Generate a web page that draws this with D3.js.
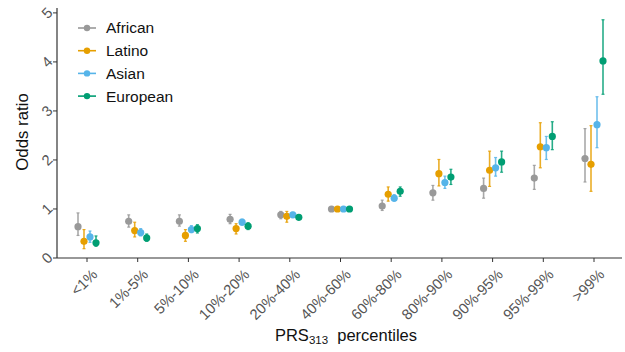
<!DOCTYPE html>
<html>
<head>
<meta charset="utf-8">
<script src="https://d3js.org/d3.v7.min.js"></script>
<style>
  body { margin: 0; background: #fff; }
  text { font-family: "Liberation Sans", Arial, sans-serif; }
</style>
</head>
<body>
<svg width="625" height="352"></svg>
<script>
const categories = ["<1%", "1%-5%", "5%-10%", "10%-20%", "20%-40%", "40%-60%", "60%-80%", "80%-90%", "90%-95%", "95%-99%", ">99%"];
const groups = ["African", "Latino", "Asian", "European"];
const colors = ["#999999", "#E69F00", "#56B4E9", "#009E73"];

// odds ratio, lower and upper CI per group, in category order
const orAfrican  = [0.64, 0.75, 0.75, 0.79, 0.88, 1, 1.06, 1.33, 1.42, 1.63, 2.03];
const loAfrican  = [0.46, 0.63, 0.65, 0.70, 0.80, 1, 0.97, 1.18, 1.22, 1.40, 1.55];
const hiAfrican  = [0.92, 0.88, 0.88, 0.89, 0.95, 1, 1.18, 1.48, 1.63, 1.89, 2.64];

const orLatino   = [0.34, 0.56, 0.46, 0.60, 0.85, 1, 1.30, 1.72, 1.79, 2.27, 1.91];
const loLatino   = [0.19, 0.43, 0.34, 0.49, 0.73, 1, 1.16, 1.47, 1.46, 1.84, 1.36];
const hiLatino   = [0.58, 0.73, 0.58, 0.70, 0.95, 1, 1.45, 2.01, 2.18, 2.76, 2.70];

const orAsian    = [0.43, 0.52, 0.58, 0.73, 0.88, 1, 1.22, 1.54, 1.84, 2.25, 2.72];
const loAsian    = [0.32, 0.45, 0.52, 0.67, 0.83, 1, 1.16, 1.42, 1.67, 2.01, 2.25];
const hiAsian    = [0.55, 0.60, 0.66, 0.79, 0.93, 1, 1.29, 1.67, 2.05, 2.48, 3.29];

const orEuropean = [0.31, 0.41, 0.60, 0.65, 0.83, 1, 1.36, 1.65, 1.96, 2.48, 4.02];
const loEuropean = [0.24, 0.34, 0.51, 0.58, 0.78, 1, 1.26, 1.50, 1.75, 2.21, 3.34];
const hiEuropean = [0.45, 0.49, 0.68, 0.72, 0.88, 1, 1.45, 1.81, 2.18, 2.78, 4.86];

const yTicks = [0, 1, 2, 3, 4, 5];

const series = [
  [orAfrican, loAfrican, hiAfrican],
  [orLatino, loLatino, hiLatino],
  [orAsian, loAsian, hiAsian],
  [orEuropean, loEuropean, hiEuropean]
];
const rows = [];
groups.forEach((g, gi) => {
  categories.forEach((c, ci) => {
    rows.push({ group: g, cat: c, or: series[gi][0][ci], lo: series[gi][1][ci], hi: series[gi][2][ci] });
  });
});

const svg = d3.select("svg");
const plotLeft = 57, plotRight = 622, plotTop = 8, plotBottom = 258;

const x = d3.scalePoint().domain(categories).range([87, 594]);
const dodge = d3.scaleBand().domain(groups).range([-12, 12]);
const y = d3.scaleLinear().domain([0, 5.1]).range([plotBottom, plotTop]);
const color = d3.scaleOrdinal().domain(groups).range(colors);

const px = d => x(d.cat) + dodge(d.group) + dodge.bandwidth() / 2;

// axes
const gx = svg.append("g").attr("transform", `translate(0,${plotBottom})`);
gx.append("line").attr("x1", plotLeft).attr("x2", plotRight).attr("stroke", "#333").attr("stroke-width", 1.2);
gx.selectAll(".tk").data(categories).enter().append("line")
  .attr("x1", d => x(d)).attr("x2", d => x(d)).attr("y1", 0).attr("y2", 4)
  .attr("stroke", "#333").attr("stroke-width", 1);
gx.selectAll(".lab").data(categories).enter().append("text")
  .attr("transform", d => `translate(${x(d) + 4},${10}) rotate(-45)`)
  .attr("text-anchor", "end")
  .attr("dy", "0.7em")
  .attr("font-size", 14.8)
  .attr("fill", "#555")
  .text(d => d);

const gy = svg.append("g").attr("transform", `translate(${plotLeft},0)`);
gy.append("line").attr("y1", plotTop).attr("y2", plotBottom).attr("stroke", "#333").attr("stroke-width", 1.2);
gy.selectAll(".tk").data(yTicks).enter().append("line")
  .attr("x1", -4).attr("x2", 0).attr("y1", d => y(d)).attr("y2", d => y(d))
  .attr("stroke", "#333").attr("stroke-width", 1);
gy.selectAll(".lab").data(yTicks).enter().append("text")
  .attr("transform", d => `translate(-10,${y(d)}) rotate(-45)`)
  .attr("text-anchor", "middle")
  .attr("dy", "0.35em")
  .attr("font-size", 14.8)
  .attr("fill", "#555")
  .text(d => d);

// titles
svg.append("text")
  .attr("transform", `translate(28,132) rotate(-90)`)
  .attr("text-anchor", "middle")
  .attr("font-size", 16.8)
  .attr("fill", "#111")
  .text("Odds ratio");

const xt = svg.append("text")
  .attr("x", 346).attr("y", 341)
  .attr("text-anchor", "middle")
  .attr("font-size", 16.5)
  .attr("fill", "#111");
xt.append("tspan").text("PRS");
xt.append("tspan").attr("font-size", 11.5).attr("dy", 3).text("313");
xt.append("tspan").attr("dy", -3).text("\u00a0 percentiles");

// error bars
const marks = svg.append("g");
marks.selectAll(".err").data(rows).enter().append("line")
  .attr("x1", px).attr("x2", px)
  .attr("y1", d => y(d.lo)).attr("y2", d => y(d.hi))
  .attr("stroke", d => color(d.group))
  .attr("stroke-width", 1.6)
  .attr("stroke-opacity", 0.85);
["lo", "hi"].forEach(k => {
  marks.selectAll(".cap" + k).data(rows).enter().append("line")
    .attr("x1", d => px(d) - 1.5).attr("x2", d => px(d) + 1.5)
    .attr("y1", d => y(d[k])).attr("y2", d => y(d[k]))
    .attr("stroke", d => color(d.group))
    .attr("stroke-width", 1.2)
    .attr("stroke-opacity", 0.85);
});
marks.selectAll(".pt").data(rows).enter().append("circle")
  .attr("cx", px).attr("cy", d => y(d.or)).attr("r", 3.6)
  .attr("fill", d => color(d.group));

// legend
const legend = svg.append("g").attr("transform", "translate(78,28)");
groups.forEach((g, i) => {
  const row = legend.append("g").attr("transform", `translate(0,${i * 22.7})`);
  row.append("line").attr("x1", 0).attr("x2", 18).attr("stroke", color(g)).attr("stroke-width", 1.6);
  row.append("circle").attr("cx", 9).attr("r", 3.2).attr("fill", color(g));
  row.append("text").attr("x", 28).attr("dy", "0.35em")
    .attr("font-size", 15.5).attr("fill", "#111").text(g);
});
</script>
</body>
</html>
